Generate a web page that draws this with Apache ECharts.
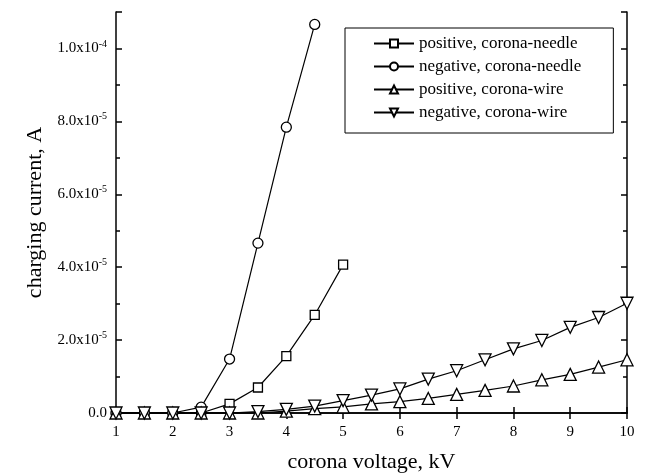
<!DOCTYPE html>
<html>
<head>
<meta charset="utf-8">
<script src="https://cdn.jsdelivr.net/npm/echarts@6/dist/echarts.min.js"></script>
<style>
  html, body { margin: 0; padding: 0; background: #fff; }
  #main { width: 646px; height: 473px; }
</style>
</head>
<body>
<div id="main"></div>
<script>
    // corona voltage, kV
    var voltsNeedle = [1, 1.5, 2, 2.5, 3, 3.5, 4, 4.5, 5];
    var voltsWire = [1, 1.5, 2, 2.5, 3, 3.5, 4, 4.5, 5, 5.5, 6, 6.5, 7, 7.5, 8, 8.5, 9, 9.5, 10];

    // charging current, A
    var posNeedle = [0, 0, 0, 0, 0.25e-5, 0.7e-5, 1.56e-5, 2.69e-5, 4.07e-5];
    var negNeedle = [0, 0, 0, 0.16e-5, 1.48e-5, 4.66e-5, 7.84e-5, 10.66e-5];
    var posWire = [0, 0, 0, 0, 0, 0, 0.05e-5, 0.12e-5, 0.17e-5, 0.25e-5, 0.31e-5, 0.4e-5, 0.51e-5, 0.62e-5, 0.74e-5, 0.91e-5, 1.06e-5, 1.26e-5, 1.46e-5];
    var negWire = [0, 0, 0, 0, 0, 0.04e-5, 0.1e-5, 0.19e-5, 0.34e-5, 0.49e-5, 0.66e-5, 0.93e-5, 1.16e-5, 1.46e-5, 1.76e-5, 1.99e-5, 2.35e-5, 2.62e-5, 3.01e-5];

    var seriesNames = ['positive, corona-needle', 'negative, corona-needle', 'positive, corona-wire', 'negative, corona-wire'];
    var yTickLabels = ['0.0', '2.0x10^-5', '4.0x10^-5', '6.0x10^-5', '8.0x10^-5', '1.0x10^-4'];

    function pairs(xs, ys) {
        var out = [];
        for (var i = 0; i < ys.length; i++) out.push([xs[i], ys[i]]);
        return out;
    }

    var font = 'Liberation Serif';
    var myChart = echarts.init(document.getElementById('main'));

    function mkSeries(name, data, symbol, size, rotate) {
        return {
            name: name,
            type: 'line',
            data: data,
            symbol: symbol,
            symbolSize: size,
            symbolRotate: rotate || 0,
            showAllSymbol: true,
            clip: false,
            itemStyle: { color: '#fff', borderColor: '#000', borderWidth: 1.3 },
            lineStyle: { color: '#000', width: 1.2 },
            emphasis: { disabled: true },
            animation: false
        };
    }

    var frameAxis = {
        axisLine: { show: true, lineStyle: { color: '#000', width: 1.5 } },
        axisTick: { show: true, inside: true, length: 6, lineStyle: { color: '#000', width: 1.5 } },
        splitLine: { show: false }
    };

    option = {
        backgroundColor: '#fff',
        grid: { left: 116, right: 19, top: 12, bottom: 60, outerBoundsMode: 'none', containLabel: false },
        legend: {
            orient: 'vertical',
            left: 345,
            top: 28,
            padding: [7, 32, 12, 28],
            borderColor: '#000',
            borderWidth: 1,
            itemWidth: 40,
            itemHeight: 10,
            itemGap: 6,
            data: seriesNames,
            textStyle: { fontFamily: font, fontSize: 17, color: '#000' }
        },
        xAxis: [
            Object.assign({
                type: 'value', min: 1, max: 10, interval: 1,
                name: 'corona voltage, kV',
                nameLocation: 'middle',
                nameGap: 38,
                nameTextStyle: { fontFamily: font, fontSize: 22, color: '#000' },
                axisLabel: { fontFamily: font, fontSize: 15, color: '#000', margin: 12 }
            }, frameAxis),
            Object.assign({
                type: 'value', min: 1, max: 10, interval: 1, position: 'top',
                axisLabel: { show: false }
            }, frameAxis)
        ],
        yAxis: [
            Object.assign({
                type: 'value', min: 0, max: 1.1e-4, interval: 2e-5,
                name: 'charging current, A',
                nameLocation: 'middle',
                nameGap: 70,
                nameTextStyle: { fontFamily: font, fontSize: 22, color: '#000' },
                minorTick: { show: true, splitNumber: 2, length: 4, lineStyle: { color: '#000', width: 1.5 } },
                axisLabel: {
                    margin: 9,
                    formatter: function (v) {
                        var k = Math.round(v / 2e-5);
                        if (Math.abs(v - k * 2e-5) > 1e-9 || k >= yTickLabels.length) return '';
                        var parts = yTickLabels[k].split('^');
                        if (parts.length === 1) return '{b|' + parts[0] + '}';
                        return '{b|' + parts[0] + '}{s|' + parts[1] + '}';
                    },
                    rich: {
                        b: { fontFamily: font, fontSize: 15, color: '#000' },
                        s: { fontFamily: font, fontSize: 10, color: '#000', padding: [0, 0, 9, 0] }
                    }
                }
            }, frameAxis),
            Object.assign({
                type: 'value', min: 0, max: 1.1e-4, interval: 2e-5, position: 'right',
                minorTick: { show: true, splitNumber: 2, length: 4, lineStyle: { color: '#000', width: 1.5 } },
                axisLabel: { show: false }
            }, frameAxis)
        ],
        series: [
            mkSeries(seriesNames[0], pairs(voltsNeedle, posNeedle), 'rect', 9),
            mkSeries(seriesNames[1], pairs(voltsNeedle, negNeedle), 'circle', 10),
            mkSeries(seriesNames[2], pairs(voltsWire, posWire), 'triangle', 12),
            mkSeries(seriesNames[3], pairs(voltsWire, negWire), 'triangle', 12, 180)
        ]
    };
    myChart.setOption(option);
</script>
</body>
</html>
